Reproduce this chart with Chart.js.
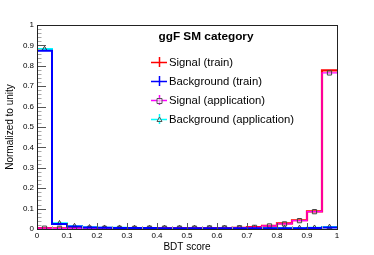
<!DOCTYPE html>
<html>
<head>
<meta charset="utf-8">
<script src="https://cdn.jsdelivr.net/npm/chart.js@4.4.1/dist/chart.umd.min.js"></script>
<style>
  html, body { margin: 0; padding: 0; background: #fff; }
  #wrap { width: 374px; height: 255px; }
</style>
</head>
<body>
<div id="wrap"><canvas id="bdtChart"></canvas></div>
<script>
// BDT score histogram, 20 bins of 0.05, normalized to unity
const binCenters = [0.025, 0.075, 0.125, 0.175, 0.225, 0.275, 0.325, 0.375, 0.425, 0.475,
                    0.525, 0.575, 0.625, 0.675, 0.725, 0.775, 0.825, 0.875, 0.925, 0.975];
const signalTrain = [0.004, 0.003, 0.003, 0.003, 0.003, 0.003, 0.003, 0.004, 0.004, 0.004,
                     0.004, 0.005, 0.005, 0.006, 0.009, 0.016, 0.028, 0.043, 0.086, 0.778];
const backgroundTrain = [0.874, 0.025, 0.012, 0.007, 0.006, 0.005, 0.005, 0.005, 0.004, 0.004,
                         0.004, 0.004, 0.004, 0.004, 0.004, 0.004, 0.004, 0.004, 0.005, 0.007];
const signalApp = [0.004, 0.003, 0.003, 0.003, 0.003, 0.003, 0.003, 0.004, 0.004, 0.004,
                   0.004, 0.005, 0.005, 0.006, 0.008, 0.015, 0.025, 0.041, 0.085, 0.765];
const backgroundApp = [0.882, 0.028, 0.014, 0.008, 0.006, 0.006, 0.005, 0.005, 0.005, 0.005,
                       0.005, 0.005, 0.005, 0.005, 0.005, 0.005, 0.005, 0.005, 0.006, 0.010];
const xTickValues = [0, 0.1, 0.2, 0.3, 0.4, 0.5, 0.6, 0.7, 0.8, 0.9, 1];
const yTickValues = [0, 0.1, 0.2, 0.3, 0.4, 0.5, 0.6, 0.7, 0.8, 0.9, 1];

const legendTitle = 'ggF SM category';
const legendEntries = [
  { label: 'Signal (train)', color: '#ff0000', marker: null },
  { label: 'Background (train)', color: '#0000ff', marker: null },
  { label: 'Signal (application)', color: '#ff00ff', marker: 'rect' },
  { label: 'Background (application)', color: '#00ffff', marker: 'triangle' },
];

// step points: bin centers + the two outer edges, drawn with stepped: 'middle'
function stepPoints(values) {
  const pts = [{ x: 0, y: values[0] }];
  binCenters.forEach((c, i) => pts.push({ x: c, y: values[i] }));
  pts.push({ x: 1, y: values[values.length - 1] });
  return pts;
}
const edgeHidden = (r) => (ctx) =>
  (ctx.dataIndex === 0 || ctx.dataIndex === binCenters.length + 1) ? 0 : r;
const rootLabel = (v) => String(Math.round(v * 10) / 10);

const font = 'Liberation Sans, Arial, Helvetica, sans-serif';

// ROOT-like frame, inner ticks and legend box
const rootFrame = {
  id: 'rootFrame',
  afterDatasetsDraw(chart) {
    const { ctx, chartArea: a, scales: { x, y } } = chart;
    ctx.save();
    ctx.lineWidth = 1;
    // minor ticks
    ctx.strokeStyle = '#a8a8a8';
    ctx.beginPath();
    for (let i = 1; i < 50; i++) {
      if (i % 5 === 0) continue;
      const py = Math.round(y.getPixelForValue(i * 0.02)) + 0.5;
      ctx.moveTo(a.left, py); ctx.lineTo(a.left + 4.5, py);
    }
    for (let i = 1; i < 20; i += 2) {
      const px = Math.round(x.getPixelForValue(i * 0.05)) + 0.5;
      ctx.moveTo(px, a.bottom); ctx.lineTo(px, a.bottom - 3);
    }
    ctx.stroke();
    // major ticks
    ctx.strokeStyle = '#555';
    ctx.beginPath();
    yTickValues.forEach(v => {
      const py = Math.round(y.getPixelForValue(v)) + 0.5;
      ctx.moveTo(a.left, py); ctx.lineTo(a.left + 9, py);
    });
    xTickValues.forEach(v => {
      const px = Math.round(x.getPixelForValue(v)) + 0.5;
      ctx.moveTo(px, a.bottom); ctx.lineTo(px, a.bottom - 6);
    });
    ctx.stroke();
    // frame
    ctx.strokeStyle = '#222';
    ctx.strokeRect(Math.round(a.left) + 0.5, Math.round(a.top) + 0.5,
                   Math.round(a.right - a.left), Math.round(a.bottom - a.top));
    ctx.restore();
  },
  afterDraw(chart) {
    const { ctx } = chart;
    ctx.save();
    ctx.fillStyle = '#000';
    ctx.textBaseline = 'middle';
    ctx.textAlign = 'center';
    ctx.font = 'bold 11.8px ' + font;
    ctx.fillText(legendTitle, 206, 37);
    ctx.textAlign = 'left';
    ctx.font = '11.3px ' + font;
    legendEntries.forEach((e, i) => {
      const cy = 62 + i * 19;
      const cx = 159;
      ctx.strokeStyle = e.color;
      ctx.lineWidth = 1.5;
      ctx.beginPath();
      ctx.moveTo(cx - 8, cy + 0.5); ctx.lineTo(cx + 8, cy + 0.5);
      ctx.moveTo(cx + 0.5, cy - 5); ctx.lineTo(cx + 0.5, cy + 5);
      ctx.stroke();
      if (e.marker) {
        ctx.strokeStyle = '#555';
        ctx.fillStyle = 'rgba(255,255,255,0.6)';
        ctx.lineWidth = 1;
        ctx.beginPath();
        if (e.marker === 'rect') {
          ctx.rect(cx - 2, cy - 1.5, 5, 5);
        } else {
          ctx.moveTo(cx + 0.5, cy - 2); ctx.lineTo(cx + 3, cy + 2.5); ctx.lineTo(cx - 2, cy + 2.5); ctx.closePath();
        }
        ctx.fill(); ctx.stroke();
        ctx.fillStyle = '#000';
      }
      ctx.fillText(e.label, 169, cy + 0.5);
    });
    ctx.restore();
  },
};

new Chart(document.getElementById('bdtChart'), {
  type: 'line',
  data: {
    datasets: [
      {
        label: 'Signal (train)',
        data: stepPoints(signalTrain),
        stepped: 'middle',
        borderColor: '#ff0000',
        borderWidth: 2.2,
        pointRadius: 0,
        order: 2,
      },
      {
        label: 'Background (train)',
        data: stepPoints(backgroundTrain),
        stepped: 'middle',
        borderColor: '#0000ff',
        borderWidth: 2,
        pointRadius: 0,
        order: 0,
      },
      {
        label: 'Signal (application)',
        data: stepPoints(signalApp),
        stepped: 'middle',
        borderColor: '#ff00ff',
        borderWidth: 1.2,
        pointStyle: 'rect',
        pointRadius: edgeHidden(3),
        pointBorderColor: '#444',
        pointBorderWidth: 1,
        pointBackgroundColor: 'rgba(255,255,255,0)',
        order: 1,
      },
      {
        label: 'Background (application)',
        data: stepPoints(backgroundApp),
        stepped: 'middle',
        borderColor: '#00ffff',
        borderWidth: 2,
        pointStyle: 'triangle',
        pointRadius: edgeHidden(2.8),
        pointBorderColor: '#333',
        pointBorderWidth: 1,
        pointBackgroundColor: 'rgba(255,255,255,0)',
        order: 3,
      },
    ],
  },
  options: {
    responsive: true,
    maintainAspectRatio: false,
    animation: false,
    layout: { padding: { left: 0, top: 25, right: 37, bottom: 0 } },
    plugins: { legend: { display: false }, tooltip: { enabled: false } },
    scales: {
      x: {
        type: 'linear',
        min: 0,
        max: 1,
        afterFit: (s) => { s.height = 26; },
        afterBuildTicks: (s) => { s.ticks = xTickValues.map(v => ({ value: v })); },
        grid: { display: false, drawTicks: false },
        border: { display: false },
        ticks: { color: '#000', font: { family: font, size: 8 }, padding: 2, autoSkip: false, maxRotation: 0, callback: rootLabel },
        title: { display: true, text: 'BDT score', color: '#000', font: { family: font, size: 10 }, padding: { top: 0, bottom: 2 } },
      },
      y: {
        min: 0,
        max: 1,
        afterFit: (s) => { s.width = 37; },
        afterBuildTicks: (s) => { s.ticks = yTickValues.map(v => ({ value: v })); },
        grid: { display: false, drawTicks: false },
        border: { display: false },
        ticks: { color: '#000', font: { family: font, size: 8 }, padding: 3, autoSkip: false, callback: rootLabel },
        title: { display: true, text: 'Normalized to unity', color: '#000', font: { family: font, size: 10 }, padding: { top: 4, bottom: 0 } },
      },
    },
  },
  plugins: [rootFrame],
});
</script>
</body>
</html>
